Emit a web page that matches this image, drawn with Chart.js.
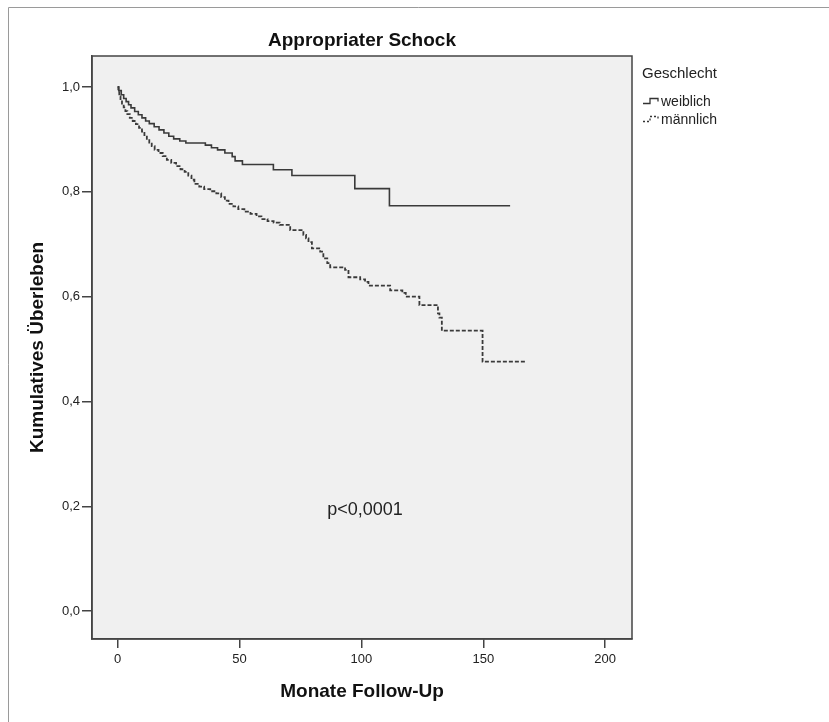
<!DOCTYPE html>
<html>
<head>
<meta charset="utf-8">
<script src="https://cdn.jsdelivr.net/npm/chart.js@4"></script>
<style>
  body { margin: 0; background: #fff; }
  canvas { display: block; }
</style>
</head>
<body>
<canvas id="kmChart" width="829" height="722"></canvas>
<script>
// Kaplan-Meier Stufen: [Monat, kumulatives Ueberleben]
const weiblichTime = [0, 0.5, 1.5, 2.5, 3.5, 4.5, 5.5, 7, 8.5, 10, 11.5, 13, 15, 17, 19, 21, 23, 25.5, 28,
  36, 38.5, 41, 44, 47, 48.2, 51.2, 63.9, 71.5, 97.3, 111.5, 161];
const weiblichSurv = [1.0, 0.993, 0.985, 0.978, 0.972, 0.966, 0.960, 0.953, 0.947, 0.941, 0.935, 0.930, 0.924,
  0.918, 0.912, 0.906, 0.901, 0.897, 0.893, 0.889, 0.884, 0.880, 0.874, 0.867, 0.859, 0.852, 0.842, 0.831,
  0.806, 0.7735, 0.7735];

const maennlichTime = [0, 0.3, 0.7, 1.2, 1.8, 2.5, 3.2, 4, 5, 6.2, 7.5, 8.8, 10, 11, 12, 13, 14, 15.2, 16.8,
  18.5, 20.2, 22, 24, 25.8, 27.5, 29, 30.3, 31.5, 33.5, 35.5, 38, 40.5, 42.5, 44, 45.5, 47.5, 49.5, 52, 54.5,
  57, 59, 61.5, 64, 66.5, 70.8, 76.2, 77.3, 78.3, 79.7, 83.1, 84.4, 86, 87.2, 93.3, 94.7, 99.5, 101.5, 102.9,
  111.8, 116.8, 118.2, 123.8, 131.4, 132, 133, 149.7, 167.5];
const maennlichSurv = [1.0, 0.990, 0.982, 0.975, 0.968, 0.961, 0.954, 0.948, 0.941, 0.935, 0.929, 0.922, 0.915,
  0.908, 0.901, 0.894, 0.887, 0.880, 0.874, 0.868, 0.861, 0.855, 0.849, 0.843, 0.838, 0.831, 0.823, 0.815,
  0.810, 0.805, 0.801, 0.797, 0.790, 0.783, 0.777, 0.772, 0.767, 0.762, 0.758, 0.753, 0.748, 0.744, 0.741,
  0.737, 0.727, 0.718, 0.711, 0.704, 0.692, 0.686, 0.673, 0.664, 0.656, 0.651, 0.637, 0.633, 0.628, 0.621,
  0.612, 0.607, 0.600, 0.584, 0.568, 0.560, 0.535, 0.476, 0.476];

const xTicks = [0, 50, 100, 150, 200];
const yTicks = [0.0, 0.2, 0.4, 0.6, 0.8, 1.0];

const toPoints = (t, s) => t.map((v, i) => ({ x: v, y: s[i] }));
const comma = v => v.toFixed(1).replace('.', ',');

const FONT = "'Liberation Sans', Arial, sans-serif";

// Rahmen, Hintergrund der Grafik, Legende und p-Wert
const decoPlugin = {
  id: 'deco',
  beforeDraw(chart) {
    const { ctx, chartArea: a } = chart;
    ctx.save();
    ctx.fillStyle = '#f0f0f0';
    ctx.fillRect(a.left, a.top, a.right - a.left, a.bottom - a.top);
    ctx.strokeStyle = '#9a9a9a';
    ctx.lineWidth = 1;
    ctx.beginPath();
    ctx.moveTo(8.5, 722);
    ctx.lineTo(8.5, 7.5);
    ctx.lineTo(829, 7.5);
    ctx.stroke();
    ctx.restore();
  },
  afterDraw(chart) {
    const { ctx, chartArea: a, scales } = chart;
    ctx.save();
    ctx.strokeStyle = '#444';
    ctx.lineWidth = 1.5;
    ctx.strokeRect(a.left, a.top, a.right - a.left, a.bottom - a.top);

    ctx.fillStyle = '#222';
    ctx.font = '18px ' + FONT;
    ctx.textAlign = 'center';
    ctx.textBaseline = 'middle';
    ctx.fillText('p<0,0001', scales.x.getPixelForValue(101.5), scales.y.getPixelForValue(0.193));

    // Legende
    ctx.textAlign = 'left';
    ctx.font = '15px ' + FONT;
    ctx.fillText('Geschlecht', 642, 74);
    ctx.font = '14px ' + FONT;
    ctx.fillText('weiblich', 661, 102);
    ctx.fillText('männlich', 661, 120);

    ctx.lineWidth = 1.3;
    ctx.strokeStyle = '#333';
    ctx.beginPath();
    ctx.moveTo(643, 103.5); ctx.lineTo(650, 103.5); ctx.lineTo(650, 98.5);
    ctx.lineTo(658, 98.5); ctx.lineTo(658, 101.5);
    ctx.stroke();
    ctx.setLineDash([2, 2]);
    ctx.beginPath();
    ctx.moveTo(643, 121.5); ctx.lineTo(650, 121.5); ctx.lineTo(650, 116.5);
    ctx.lineTo(658, 116.5); ctx.lineTo(658, 119.5);
    ctx.stroke();
    ctx.restore();
  }
};

new Chart(document.getElementById('kmChart'), {
  type: 'line',
  data: {
    datasets: [
      {
        label: 'weiblich',
        data: toPoints(weiblichTime, weiblichSurv),
        borderColor: '#3a3a3a',
        borderWidth: 1.6,
        stepped: true,
        pointRadius: 0,
        fill: false
      },
      {
        label: 'männlich',
        data: toPoints(maennlichTime, maennlichSurv),
        borderColor: '#3a3a3a',
        borderWidth: 1.8,
        borderDash: [4, 2],
        stepped: true,
        pointRadius: 0,
        fill: false
      }
    ]
  },
  options: {
    responsive: false,
    devicePixelRatio: 1,
    animation: false,
    layout: { padding: { left: 0, right: 197, top: 0, bottom: 0 } },
    plugins: {
      legend: { display: false },
      tooltip: { enabled: false },
      title: {
        display: true,
        text: 'Appropriater Schock',
        fullSize: false,
        color: '#111',
        font: { family: FONT, size: 19, weight: 'bold' },
        padding: { top: 29.6, bottom: 3.6 }
      }
    },
    scales: {
      x: {
        type: 'linear',
        min: -10.5,
        max: 211,
        afterBuildTicks: s => { s.ticks = xTicks.map(v => ({ value: v })); },
        afterFit: s => { s.height = 83; },
        grid: { drawOnChartArea: false, drawTicks: true, tickLength: 9, color: '#444', lineWidth: 1.5 },
        border: { display: true, color: '#444', width: 1.5 },
        ticks: { color: '#222', padding: 4, font: { family: FONT, size: 13 }, maxRotation: 0,
          callback: v => String(v) },
        title: {
          display: true,
          text: 'Monate Follow-Up',
          color: '#111',
          font: { family: FONT, size: 19, weight: 'bold' },
          padding: { top: 0, bottom: 18.6 }
        }
      },
      y: {
        type: 'linear',
        min: -0.053,
        max: 1.059,
        afterBuildTicks: s => { s.ticks = yTicks.map(v => ({ value: v })); },
        afterFit: s => { s.width = 92; },
        grid: { drawOnChartArea: false, drawTicks: true, tickLength: 10, color: '#444', lineWidth: 1.5 },
        border: { display: true, color: '#444', width: 1.5 },
        ticks: { color: '#222', padding: 2, font: { family: FONT, size: 13 }, callback: v => comma(v) },
        title: {
          display: true,
          text: 'Kumulatives Überleben',
          color: '#111',
          font: { family: FONT, size: 19, weight: 'bold' },
          padding: { top: 26, bottom: 0 }
        }
      }
    }
  },
  plugins: [decoPlugin]
});
</script>
</body>
</html>
